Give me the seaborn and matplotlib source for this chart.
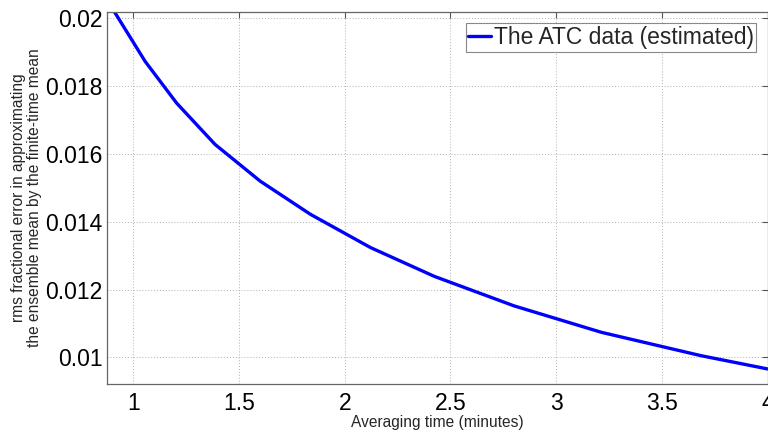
import matplotlib
matplotlib.use("Agg")
import matplotlib.pyplot as plt
import seaborn as sns
import pandas as pd

# Data
avg_time = [0.90, 1.056, 1.205, 1.387, 1.60, 1.838, 2.122, 2.424, 2.801, 3.214, 3.686, 4.0]
rms_err = [0.02030, 0.01873, 0.01750, 0.01628, 0.01520, 0.01422, 0.01324, 0.01239, 0.01152, 0.01074, 0.01005, 0.00966]
series_name = "The ATC data (estimated)"
x_ticks = [1, 1.5, 2, 2.5, 3, 3.5, 4]
x_tick_labels = ["1", "1.5", "2", "2.5", "3", "3.5", "4"]
y_ticks = [0.010, 0.012, 0.014, 0.016, 0.018, 0.020]
y_tick_labels = ["0.01", "0.012", "0.014", "0.016", "0.018", "0.02"]

sns.set_style("white")
plt.rcParams['font.family'] = ['Liberation Sans', 'DejaVu Sans']

df = pd.DataFrame({"x": avg_time, "y": rms_err, "series": series_name})

fig = plt.figure(figsize=(7.68, 4.33), dpi=100)
ax = fig.add_axes([106.7 / 768, 1 - 383.7 / 433, (767.5 - 106.7) / 768, (383.7 - 12.3) / 433])

sns.lineplot(data=df, x="x", y="y", hue="series", palette=["#0000ff"], linewidth=2.4,
             ax=ax, legend=True, sort=False)

ax.set_xlim(0.874, 4.0)
ax.set_ylim(0.009224, 0.02018)
ax.set_xticks(x_ticks)
ax.set_xticklabels(x_tick_labels)
ax.set_yticks(y_ticks)
ax.set_yticklabels(y_tick_labels)
ax.tick_params(axis="both", which="both", direction="in", length=4, width=0.8,
               color="#555555", labelsize=16.5, top=True, right=True,
               labelcolor="black")
ax.tick_params(axis="x", pad=6)
ax.tick_params(axis="y", pad=3)
ax.grid(True, linestyle=(0, (1, 2)), color="#b0b0b0", linewidth=0.7)
for s in ax.spines.values():
    s.set_color("#666666")
    s.set_linewidth(0.9)
    s.set_visible(True)

ax.set_xlabel("Averaging time (minutes)", fontsize=11.2, labelpad=0)
ax.set_ylabel("rms fractional error in approximating\nthe ensemble mean by the finite-time mean",
              fontsize=11.2, labelpad=2, linespacing=1.15)

handles, labels = ax.get_legend_handles_labels()
leg = ax.legend(handles, labels, loc="upper left",
                bbox_to_anchor=(465.7 / 768, 1 - 23.3 / 433), bbox_transform=fig.transFigure,
                fontsize=16.5, handlelength=1.0, handletextpad=0.1, borderpad=0.12,
                borderaxespad=0, frameon=True, fancybox=False, framealpha=1)
leg.get_frame().set_edgecolor("#888888")
leg.get_frame().set_linewidth(0.8)

fig.savefig("out.png", dpi=100)
